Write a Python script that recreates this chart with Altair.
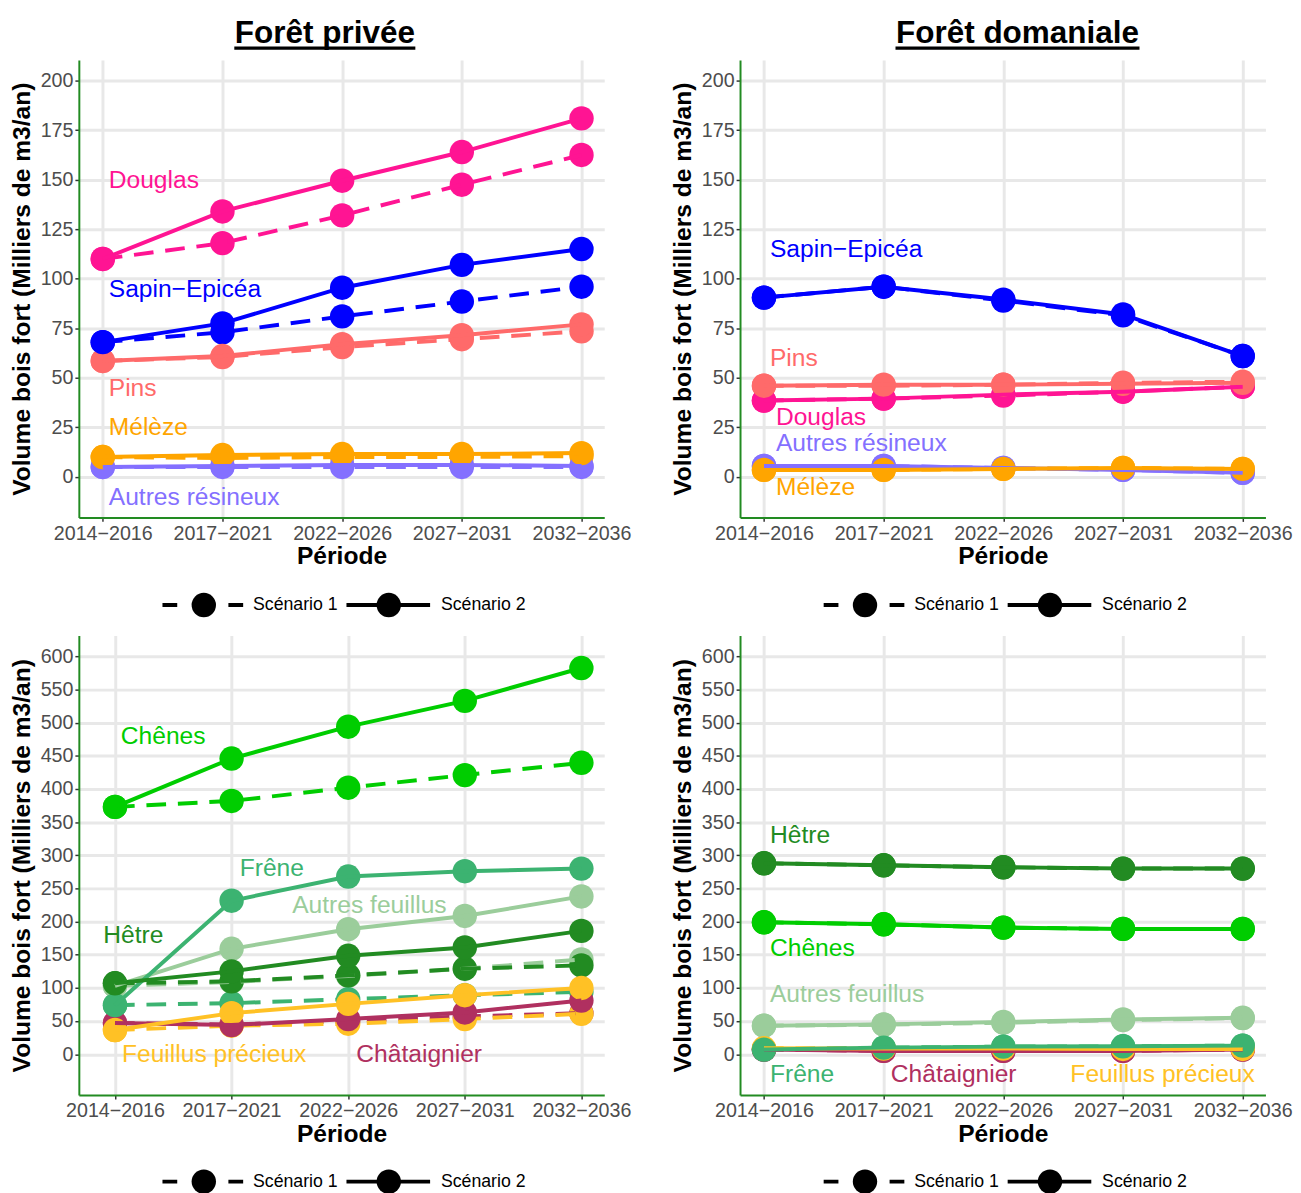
import altair as alt
import pandas as pd

FONT = "Liberation Sans"

periods = ["2014−2016", "2017−2021", "2022−2026", "2027−2031", "2032−2036"]
scenarios = ["Scénario 1", "Scénario 2"]
y_title = "Volume bois fort (Milliers de m3/an)"
x_title = "Période"
titles = ["Forêt privée", "Forêt domaniale"]

species_res = ["Douglas", "Sapin−Epicéa", "Pins", "Mélèze", "Autres résineux"]
colors_res = ["#FF1493", "#0000FF", "#FF6A6A", "#FFA500", "#8470FF"]

species_feu = ["Chênes", "Hêtre", "Frêne", "Autres feuillus", "Feuillus précieux", "Châtaignier"]
colors_feu = ["#00CD00", "#228B22", "#3CB371", "#9BCD9B", "#FFC125", "#B03060"]

# ---- Forêt privée, résineux ----
prive_res_s1 = {
    "Douglas": [110, 118, 132, 147.5, 162.5],
    "Sapin−Epicéa": [68, 73, 81, 88.5, 96],
    "Pins": [58.5, 60.5, 65.5, 69.5, 73.5],
    "Mélèze": [10, 9.5, 10, 10, 10.5],
    "Autres résineux": [5, 5, 5, 5, 5],
}
prive_res_s2 = {
    "Douglas": [110, 134, 149.5, 164, 181],
    "Sapin−Epicéa": [68, 77.5, 95.5, 107, 115],
    "Pins": [58.5, 61, 67, 71.5, 77],
    "Mélèze": [10, 11, 11.5, 11.5, 12],
    "Autres résineux": [5, 5.5, 6, 6, 5.5],
}
# ---- Forêt domaniale, résineux ----
dom_res_s1 = {
    "Douglas": [38.5, 39.5, 41, 43, 45.5],
    "Sapin−Epicéa": [90.5, 96, 89, 81.5, 61],
    "Pins": [46, 46, 46.5, 47.5, 48],
    "Mélèze": [3.5, 3.5, 4, 4.5, 4],
    "Autres résineux": [5.5, 5.5, 4.5, 3.5, 2],
}
dom_res_s2 = {
    "Douglas": [38.5, 39.5, 41.5, 43, 45.5],
    "Sapin−Epicéa": [90.5, 96, 89.5, 82, 61],
    "Pins": [46, 46.5, 46.5, 47, 47.5],
    "Mélèze": [3.5, 3.5, 4, 4.5, 4],
    "Autres résineux": [5.5, 5.5, 4.5, 3.5, 2],
}
# ---- Forêt privée, feuillus ----
prive_feu_s1 = {
    "Chênes": [373, 382, 402, 421, 439.5],
    "Hêtre": [107, 110, 119, 129, 134],
    "Frêne": [74, 77, 83, 89, 94],
    "Autres feuillus": [103, 109, 118, 129, 143],
    "Feuillus précieux": [36.5, 43, 46, 53, 61],
    "Châtaignier": [47, 45, 50, 57, 62],
}
prive_feu_s2 = {
    "Chênes": [373, 446, 494, 533, 582.5],
    "Hêtre": [107, 125, 148.5, 161, 186],
    "Frêne": [74, 231.5, 268, 276, 280],
    "Autres feuillus": [103, 159, 188.5, 208.5, 238],
    "Feuillus précieux": [36.5, 62, 76, 89, 100],
    "Châtaignier": [47, 44, 53, 63, 81],
}
# ---- Forêt domaniale, feuillus ----
dom_feu_s1 = {
    "Chênes": [199, 196, 191, 189, 189],
    "Hêtre": [288, 285, 282, 280, 280],
    "Frêne": [7, 10, 11.5, 12, 13],
    "Autres feuillus": [43, 44.5, 47.5, 51.5, 54.5],
    "Feuillus précieux": [9, 8.5, 8.5, 8, 8],
    "Châtaignier": [7, 5, 5, 5, 7],
}
dom_feu_s2 = {
    "Chênes": [199, 196, 191, 189, 189],
    "Hêtre": [288, 285, 282, 280, 280],
    "Frêne": [7, 10, 11.5, 12, 13],
    "Autres feuillus": [43, 45, 48.5, 52.5, 55],
    "Feuillus précieux": [9, 8.5, 8.5, 8, 8],
    "Châtaignier": [7, 5, 5, 5, 7],
}

# annotation labels: (species, x position in period index, y value)
labels_prive_res = [("Douglas", 1.05, 150), ("Sapin−Epicéa", 1.05, 95), ("Pins", 1.05, 45),
                    ("Mélèze", 1.05, 25), ("Autres résineux", 1.05, -10)]
labels_dom_res = [("Sapin−Epicéa", 1.05, 115), ("Pins", 1.05, 60), ("Douglas", 1.1, 30),
                  ("Autres résineux", 1.1, 17), ("Mélèze", 1.1, -5)]
labels_prive_feu = [("Chênes", 1.05, 480), ("Frêne", 2.07, 280), ("Autres feuillus", 2.52, 225),
                    ("Hêtre", 0.9, 180), ("Feuillus précieux", 1.06, 0), ("Châtaignier", 3.07, 0)]
labels_dom_feu = [("Hêtre", 1.05, 330), ("Chênes", 1.05, 160), ("Autres feuillus", 1.05, 90),
                  ("Frêne", 1.05, -30), ("Châtaignier", 2.06, -30), ("Feuillus précieux", 3.56, -30)]


def long_df(s1, s2, species):
    rows = []
    for scen, vals in zip(scenarios, [s1, s2]):
        for sp in sorted(species):  # drawing order: alphabetical
            for i, v in enumerate(vals[sp]):
                rows.append({"espece": sp, "scenario": scen, "idx": i + 1,
                             "periode": periods[i], "valeur": v})
    return pd.DataFrame(rows)


label_expr = "[" + ",".join("'" + p + "'" for p in periods) + "][round(datum.value) - 1]"

PANEL_W = 534


def panel(s1, s2, species, colors, labels, xdomain, ydomain, yvalues, height,
          title=None, title_x=None, underline=None, legend_dy=87):
    width = PANEL_W
    df = long_df(s1, s2, species)
    lab = pd.DataFrame(labels, columns=["espece", "idx", "valeur"])
    color = alt.Color("espece:N", scale=alt.Scale(domain=species, range=colors), legend=None)
    x = alt.X("idx:Q", scale=alt.Scale(domain=xdomain, nice=False, zero=False),
              axis=alt.Axis(values=[1, 2, 3, 4, 5], labelExpr=label_expr, labelFlush=False,
                            labelOverlap=False, title=x_title))
    y = alt.Y("valeur:Q", scale=alt.Scale(domain=ydomain, nice=False, zero=False),
              axis=alt.Axis(values=yvalues, title=y_title, labelOverlap=False))
    base = alt.Chart(df)
    layers = []
    for k, scen in enumerate(scenarios):
        sub = base.transform_filter(alt.datum.scenario == scen)
        layers.append(sub.mark_circle(size=615, opacity=1).encode(x=x, y=y, color=color))
        if k == 0:
            ln = sub.mark_line(strokeWidth=4, strokeDash=[20, 12])
        else:
            ln = sub.mark_line(strokeWidth=4)
        layers.append(ln.encode(x=x, y=y, color=color, detail="espece:N"))
    layers.append(alt.Chart(lab).mark_text(align="left", baseline="middle", fontSize=25, font=FONT)
                  .encode(x=x, y=y, text="espece:N", color=color))
    if title is not None:
        tdf = pd.DataFrame({"t": [title]})
        layers.append(alt.Chart(tdf).mark_text(fontSize=32, fontWeight="bold", font=FONT,
                                               align="center", baseline="alphabetic", color="black")
                      .encode(text="t:N", x=alt.value(title_x), y=alt.value(-17)))
        layers.append(alt.Chart(tdf).mark_rule(strokeWidth=3.5, color="black")
                      .encode(x=alt.value(underline[0]), x2=alt.value(underline[1]), y=alt.value(-12)))
    # legend (drawn below the panel)
    ly = height + legend_dy
    l1 = pd.DataFrame({"s": [scenarios[0]]})
    l2 = pd.DataFrame({"s": [scenarios[1]]})
    layers.append(alt.Chart(l1).mark_rule(strokeWidth=4, strokeDash=[15, 52], color="black")
                  .encode(x=alt.value(85), x2=alt.value(167), y=alt.value(ly)))
    layers.append(alt.Chart(l1).mark_circle(size=615, opacity=1, color="black")
                  .encode(x=alt.value(127), y=alt.value(ly)))
    layers.append(alt.Chart(l1).mark_text(align="left", baseline="middle", fontSize=18, font=FONT, color="black")
                  .encode(x=alt.value(177), y=alt.value(ly), text="s:N"))
    layers.append(alt.Chart(l2).mark_rule(strokeWidth=4, color="black")
                  .encode(x=alt.value(272), x2=alt.value(357), y=alt.value(ly)))
    layers.append(alt.Chart(l2).mark_circle(size=615, opacity=1, color="black")
                  .encode(x=alt.value(315), y=alt.value(ly)))
    layers.append(alt.Chart(l2).mark_text(align="left", baseline="middle", fontSize=18, font=FONT, color="black")
                  .encode(x=alt.value(368), y=alt.value(ly), text="s:N"))
    return alt.layer(*layers).properties(width=width, height=height)


yv_res = list(range(0, 201, 25))
yv_feu = list(range(0, 601, 50))

pA = panel(prive_res_s1, prive_res_s2, species_res, colors_res, labels_prive_res,
           [0.8, 5.19], [-20.5, 210.5], yv_res, 465, titles[0], 250, (158, 342), 89)
pB = panel(dom_res_s1, dom_res_s2, species_res, colors_res, labels_dom_res,
           [0.8, 5.19], [-20.5, 210.5], yv_res, 465, titles[1], 282, (158, 406), 89)
pC = panel(prive_feu_s1, prive_feu_s2, species_feu, colors_feu, labels_prive_feu,
           [0.69, 5.196], [-61.5, 631.5], yv_feu, 467, legend_dy=88)
pD = panel(dom_feu_s1, dom_feu_s2, species_feu, colors_feu, labels_dom_feu,
           [0.8, 5.19], [-61.5, 631.5], yv_feu, 467, legend_dy=88)

top = alt.hconcat(pA, pB, spacing=39).resolve_scale(color="independent")
bottom = alt.hconcat(pC, pD, spacing=39).resolve_scale(color="independent")

chart = alt.vconcat(top, bottom, spacing=18).resolve_scale(
    color="independent"
).properties(
    padding={"left": 1, "top": 0, "right": 0, "bottom": 0}
).configure_axis(
    labelFont=FONT, titleFont=FONT, labelFontSize=20, labelColor="#4D4D4D",
    titleFontSize=25, titleFontWeight="bold", titleColor="black",
    gridColor="#E8E8E8", gridWidth=3, domainColor="#228B22", domainWidth=2,
    tickColor="#333333", tickSize=4, tickWidth=1.5, labelPadding=2,
).configure_axisX(titlePadding=1).configure_axisY(titlePadding=6).configure_view(
    strokeWidth=0
).configure_text(font=FONT)

chart.save("out.html", embed_options={"renderer": "svg", "actions": False})
